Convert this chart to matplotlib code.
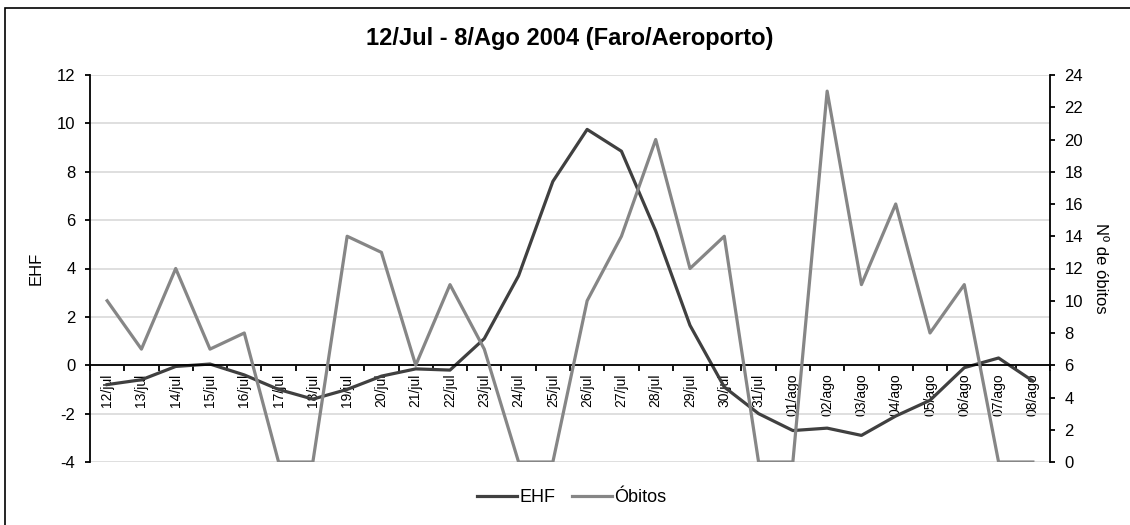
import matplotlib.pyplot as plt
from matplotlib.patches import Rectangle
from matplotlib.ticker import MultipleLocator, FixedLocator

plt.rcParams['font.family'] = ['Liberation Sans', 'DejaVu Sans']
plt.rcParams['axes.unicode_minus'] = False

dias = ['12/jul', '13/jul', '14/jul', '15/jul', '16/jul', '17/jul', '18/jul',
        '19/jul', '20/jul', '21/jul', '22/jul', '23/jul', '24/jul', '25/jul',
        '26/jul', '27/jul', '28/jul', '29/jul', '30/jul', '31/jul', '01/ago',
        '02/ago', '03/ago', '04/ago', '05/ago', '06/ago', '07/ago', '08/ago']
ehf = [-0.8, -0.6, -0.05, 0.05, -0.4, -1.0, -1.4, -1.0, -0.45, -0.15, -0.2, 1.1,
       3.7, 7.6, 9.75, 8.85, 5.55, 1.65, -0.9, -2.0, -2.7, -2.6, -2.9, -2.1,
       -1.45, -0.1, 0.3, -0.65]
obitos = [10, 7, 12, 7, 8, 0, 0, 14, 13, 6, 11, 7, 0, 0,
          10, 14, 20, 12, 14, 0, 0, 23, 11, 16, 8, 11, 0, 0]

cor_ehf = '#404040'
cor_obitos = '#868686'

W, H = 1130, 525
fig = plt.figure(figsize=(W / 100, H / 100), dpi=100)
# moldura do gráfico (só se vê o lado esquerdo e o de cima)
fig.patches.append(Rectangle((5 / W, -0.1), 1.2, 1 - 8 / H + 0.1,
                             transform=fig.transFigure, fill=False,
                             edgecolor='black', linewidth=1.2))

ax = fig.add_axes([90 / W, 1 - 462 / H, 960 / W, 387 / H])
x = list(range(len(dias)))

ax.set_ylim(-4, 12)
ax.set_xlim(-0.5, len(dias) - 0.5)
ax.yaxis.set_major_locator(MultipleLocator(2))
ax.grid(axis='y', color='#d9d9d9', linewidth=1.2)
ax.set_axisbelow(True)
l1, = ax.plot(x, ehf, color=cor_ehf, linewidth=2.3, label='EHF')

ax.spines['top'].set_visible(False)
ax.spines['right'].set_visible(False)
ax.spines['bottom'].set_position(('data', 0))
ax.spines['bottom'].set_linewidth(1.3)
ax.spines['left'].set_linewidth(1.3)
ax.set_xticks(x)
ax.set_xticklabels(dias, rotation=90, fontsize=10)
ax.xaxis.set_minor_locator(FixedLocator([i - 0.5 for i in range(len(dias) + 1)]))
ax.tick_params(axis='x', which='major', length=0, pad=6)
ax.tick_params(axis='x', which='minor', length=4.5, width=1.3, direction='out')
ax.tick_params(axis='y', labelsize=12, length=3.5, width=1.3, direction='out', pad=7)
ax.set_ylabel('EHF', fontsize=12)
ax.yaxis.set_label_coords(-46 / 960, 0.5)

ax2 = ax.twinx()
ax2.set_ylim(0, 24)
ax2.yaxis.set_major_locator(MultipleLocator(2))
l2, = ax2.plot(x, obitos, color=cor_obitos, linewidth=2.3, label='Óbitos')
for s in ['top', 'bottom', 'left']:
    ax2.spines[s].set_visible(False)
ax2.spines['right'].set_linewidth(1.3)
ax2.tick_params(axis='y', labelsize=12, length=3.5, width=1.3, direction='out', pad=7)
ax2.set_ylabel('Nº de óbitos', fontsize=12, rotation=270)
ax2.yaxis.set_label_coords(1 + 58 / 960, 0.5)

fig.text(570 / W, 1 - 45 / H, '12/Jul - 8/Ago 2004 (Faro/Aeroporto)',
         ha='center', va='baseline', fontsize=17, fontweight='bold')

fig.legend(handles=[l1, l2], loc='center', bbox_to_anchor=(572 / W, 1 - 498 / H),
           ncol=2, frameon=False, fontsize=13, handlelength=2.2, handletextpad=0.15,
           columnspacing=0.9)

fig.savefig('out.png', dpi=100)
